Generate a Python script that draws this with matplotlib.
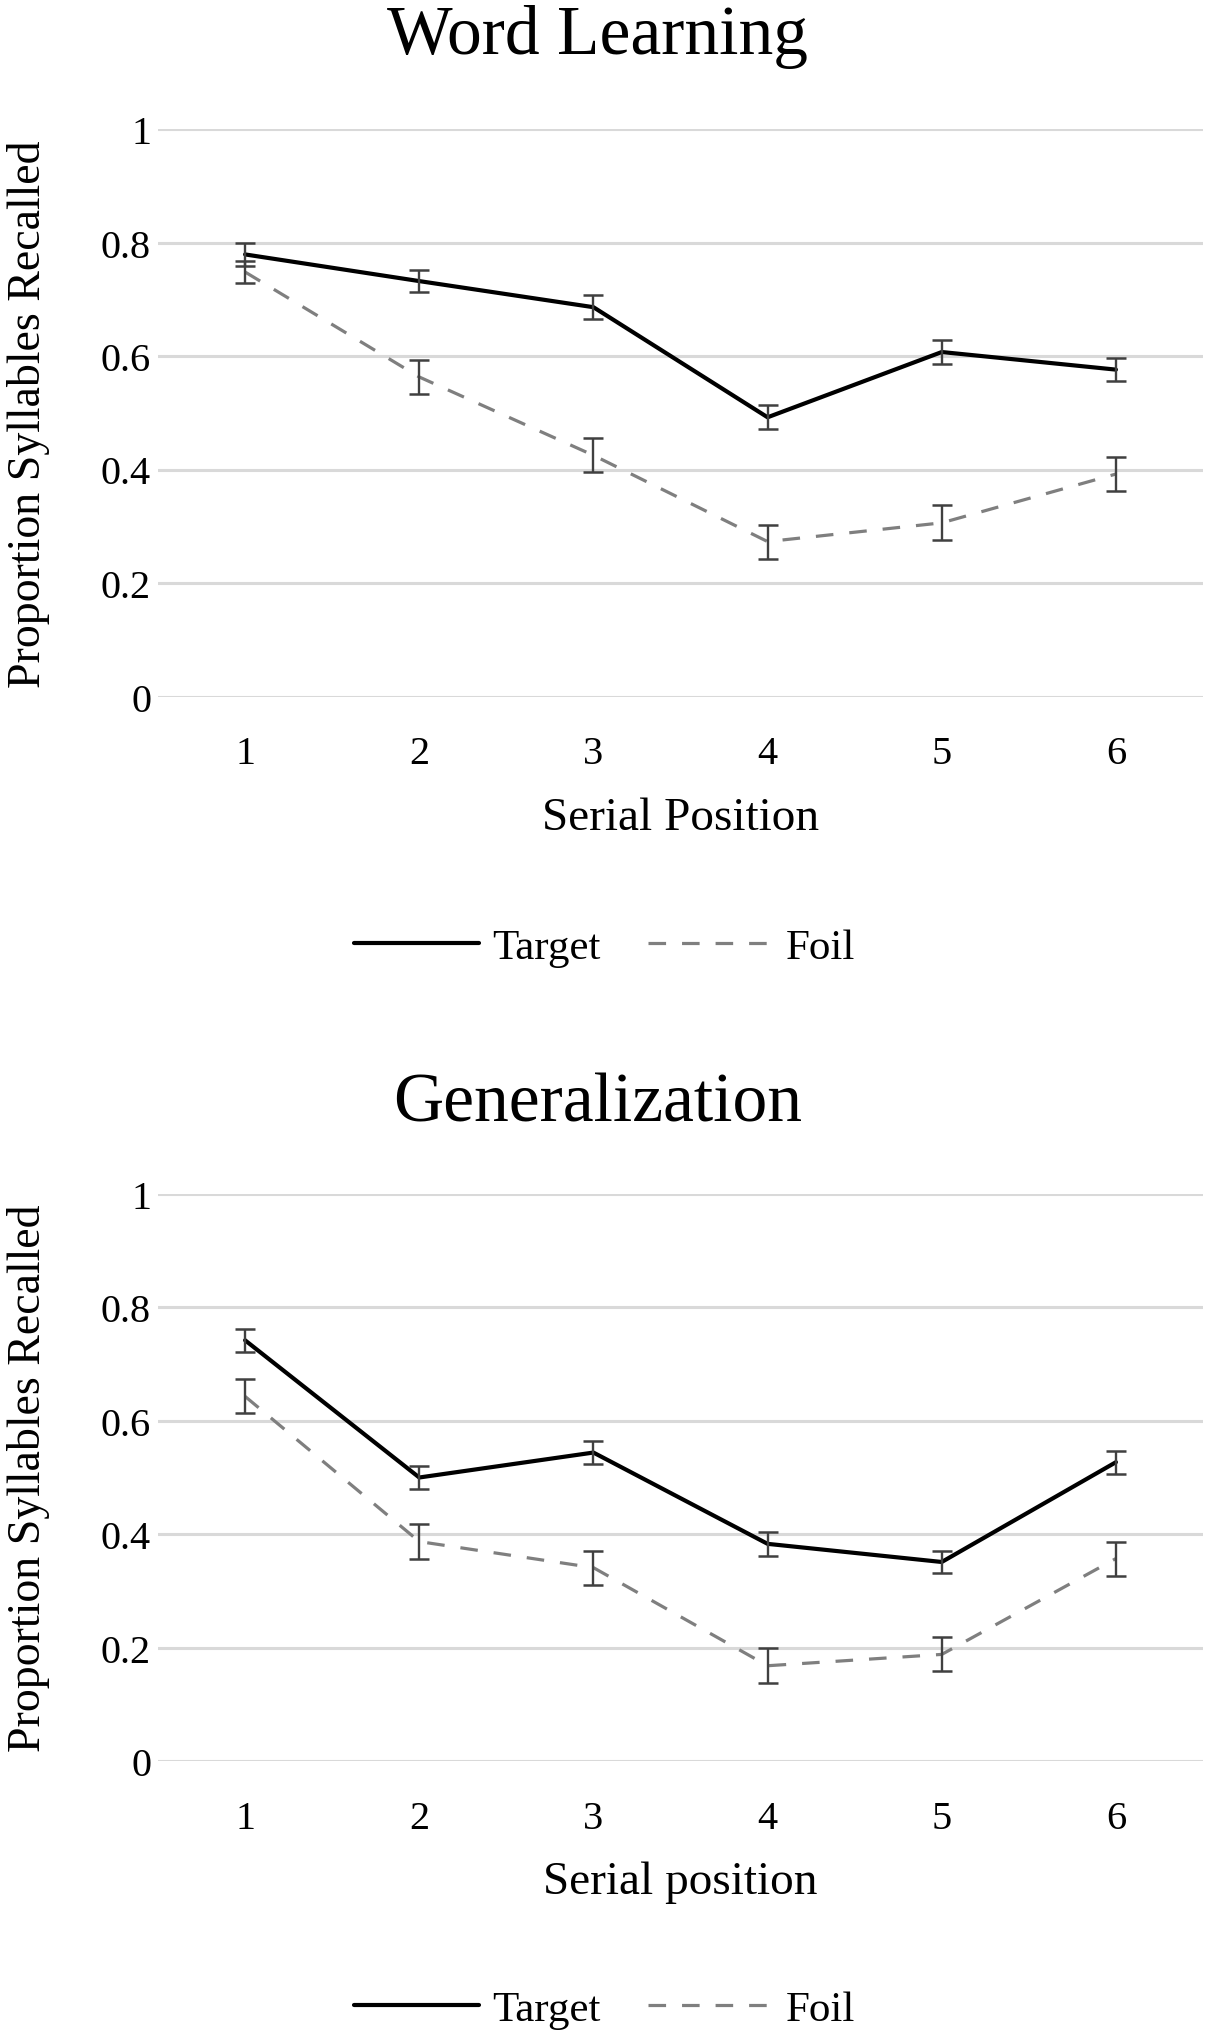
import matplotlib
matplotlib.use("Agg")
import matplotlib.pyplot as plt

# values
positions = [1, 2, 3, 4, 5, 6]

wl_target = [0.779, 0.732, 0.686, 0.492, 0.607, 0.576]
wl_target_err = [0.020, 0.020, 0.021, 0.021, 0.021, 0.020]
wl_foil = [0.748, 0.563, 0.425, 0.273, 0.306, 0.392]
wl_foil_err = [0.020, 0.030, 0.030, 0.030, 0.031, 0.030]

gen_target = [0.742, 0.500, 0.544, 0.383, 0.351, 0.527]
gen_target_err = [0.020, 0.021, 0.020, 0.021, 0.020, 0.020]
gen_foil = [0.643, 0.387, 0.341, 0.168, 0.188, 0.357]
gen_foil_err = [0.030, 0.031, 0.030, 0.031, 0.030, 0.030]

y_ticks = [0, 0.2, 0.4, 0.6, 0.8, 1]
y_tick_labels = ["0", "0.2", "0.4", "0.6", "0.8", "1"]

plt.rcParams["font.family"] = ["Liberation Serif", "DejaVu Serif"]

W, H = 1212, 2040
fig = plt.figure(figsize=(W / 100, H / 100), dpi=100)


def panel(bottom_px, top_px, title, title_y, xlabel, legend_y, target, target_err, foil, foil_err):
    left, right = 158, 1203
    ax = fig.add_axes([left / W, 1 - bottom_px / H, (right - left) / W, (bottom_px - top_px) / H])

    ax.plot(positions, target, color="black", lw=3.0, solid_capstyle="round", zorder=3, label="Target")
    ax.plot(positions, foil, color="#7f7f7f", lw=2.3, linestyle=(0, (5.5, 5)), zorder=3, label="Foil")
    for vals, errs in ((target, target_err), (foil, foil_err)):
        ax.errorbar(positions, vals, yerr=errs, fmt="none", ecolor="#404040",
                    elinewidth=1.7, capsize=7, capthick=1.8, zorder=4)

    ax.set_xlim(0.5, 6.5)
    ax.set_ylim(0, 1)
    ax.set_xticks(positions)
    ax.set_yticks(y_ticks)
    ax.set_yticklabels(y_tick_labels)
    ax.yaxis.grid(True, color="#d9d9d9", lw=2.2)
    ax.set_axisbelow(True)
    for s in ax.spines.values():
        s.set_visible(False)
    ax.tick_params(axis="x", length=0, labelsize=29, pad=28)
    ax.tick_params(axis="y", length=0, labelsize=29, pad=5)
    ax.set_xlabel(xlabel, fontsize=34, labelpad=17)

    fig.text(0.493, 1 - title_y / H, title, fontsize=50, ha="center", va="center")
    fig.text(29 / W, 1 - (top_px + bottom_px) / 2 / H, "Proportion Syllables Recalled",
             fontsize=33, rotation=90, ha="center", va="center")

    ax.legend(loc="center", bbox_to_anchor=(0.499, 1 - legend_y / H), bbox_transform=fig.transFigure,
              ncol=2, frameon=False, fontsize=31, handlelength=2.9, handletextpad=0.3,
              columnspacing=1.1)
    return ax


panel(697.5, 130, "Word Learning", 37, "Serial Position", 948,
      wl_target, wl_target_err, wl_foil, wl_foil_err)
panel(1762, 1195, "Generalization", 1105, "Serial position", 2010,
      gen_target, gen_target_err, gen_foil, gen_foil_err)

fig.savefig("out.png", dpi=100, facecolor="white")
